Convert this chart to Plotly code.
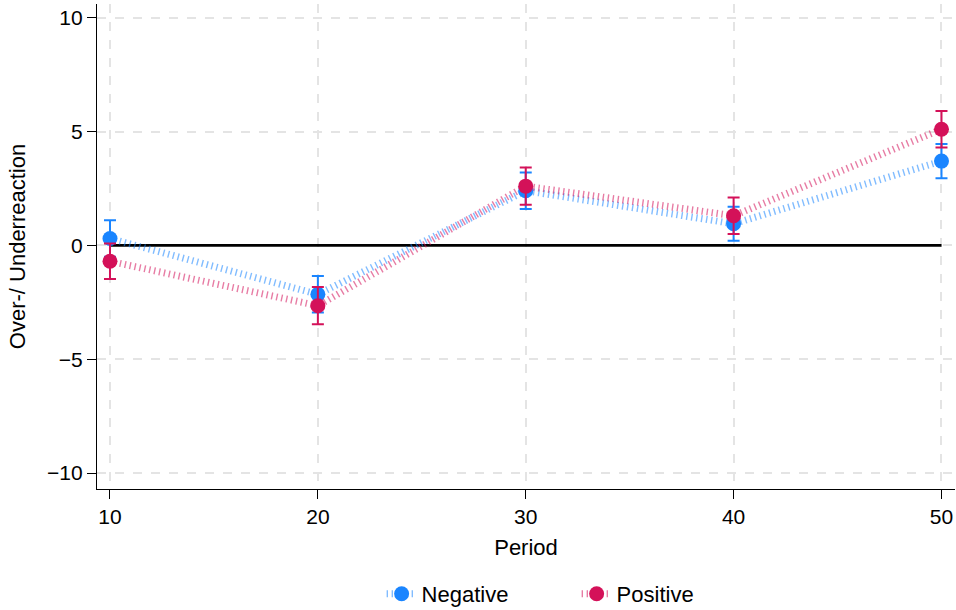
import plotly.graph_objects as go

periods = [10, 20, 30, 40, 50]
neg_vals = [0.3, -2.15, 2.4, 0.95, 3.7]
neg_err = [0.8, 0.8, 0.8, 0.75, 0.75]
pos_vals = [-0.7, -2.65, 2.6, 1.3, 5.1]
pos_err = [0.78, 0.82, 0.82, 0.8, 0.8]
yticks = [-10, -5, 0, 5, 10]
xticks = [10, 20, 30, 40, 50]

BLUE = "#1a85ff"
RED = "#d41159"
FONT = "Liberation Sans, Arial, sans-serif"

fig = go.Figure()

fig.add_trace(go.Scatter(x=[periods[0], periods[-1]], y=[0, 0], mode="lines",
                         line=dict(color="black", width=2.8), showlegend=False,
                         hoverinfo="skip"))

def add_series(name, vals, err, color, rgba):
    fig.add_trace(go.Scatter(
        x=periods, y=vals, name=name, mode="lines+markers",
        line=dict(color=rgba, width=7, dash="1.4px,3.6px"),
        marker=dict(color=color, size=15, line=dict(width=0)),
        error_y=dict(type="data", array=err, visible=True, color=color,
                     thickness=2, width=6),
    ))

add_series("Negative", neg_vals, neg_err, BLUE, "rgba(26,133,255,0.55)")
add_series("Positive", pos_vals, pos_err, RED, "rgba(212,17,89,0.55)")

fig.update_layout(
    width=956, height=610,
    margin=dict(l=97, r=1, t=4, b=121, autoexpand=False),
    paper_bgcolor="white", plot_bgcolor="white",
    font=dict(family=FONT, size=21, color="black"),
    showlegend=True,
    legend=dict(orientation="h", x=0.559, xanchor="center", y=-0.2165, yanchor="middle",
                font=dict(size=22), entrywidth=150, entrywidthmode="pixels",
                tracegroupgap=0),
    xaxis=dict(range=[9.375, 50.65], tickvals=xticks, ticks="outside", ticklen=9,
               tickcolor="black", tickwidth=1.3, showline=True, linecolor="black",
               linewidth=1.3, showgrid=True, gridcolor="#e4e4e4", griddash="dash",
               gridwidth=1.5, zeroline=False, automargin=False,
               title=dict(text="Period", standoff=12, font=dict(size=22)),
               tickfont=dict(size=21)),
    yaxis=dict(range=[-10.7, 10.6], tickvals=yticks, ticks="outside", ticklen=9,
               tickcolor="black", tickwidth=1.3, showline=True, linecolor="black",
               linewidth=1.3, showgrid=True, gridcolor="#e4e4e4", griddash="dash",
               gridwidth=1.5, zeroline=False, automargin=False,
               title=dict(text="Over-/ Underreaction", standoff=15, font=dict(size=22)),
               tickfont=dict(size=21)),
)

fig.write_html("out.html")
